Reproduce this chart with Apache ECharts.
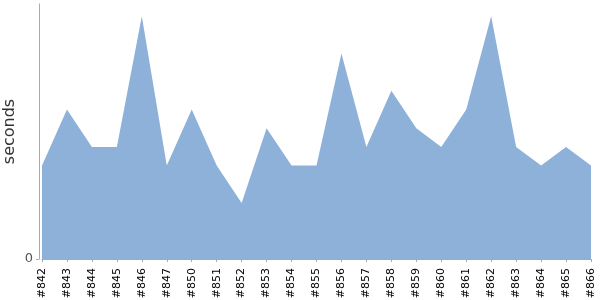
<!DOCTYPE html>
<html><head><meta charset="utf-8">
<script src="https://cdn.jsdelivr.net/npm/echarts@6/dist/echarts.min.js"></script>
<style>html,body{margin:0;padding:0;background:#fff}#c{width:600px;height:300px}</style>
</head><body><div id="c"></div>
<script>
var builds = ['#842','#843','#844','#845','#846','#847','#850','#851','#852','#853','#854','#855','#856','#857','#858','#859','#860','#861','#862','#863','#864','#865','#866'];
var seconds = [5,8,6,6,13,5,8,5,3,7,5,5,11,6,9,7,6,8,13,6,5,6,5];
var yTicks = [0];

var chart = echarts.init(document.getElementById('c'), null, {renderer:'canvas'});
chart.setOption({
  animation:false,
  grid:{left:42,right:9,top:4,bottom:41,containLabel:false,outerBoundsMode:'none'},
  xAxis:{
    type:'category', data:builds, boundaryGap:false, offset:3,
    axisLine:{lineStyle:{color:'#aaa'}},
    axisTick:{show:true,alignWithLabel:true,length:3,lineStyle:{color:'#aaa'}},
    axisLabel:{rotate:90,interval:0,fontSize:11,color:'#000',fontFamily:'DejaVu Sans',margin:6}
  },
  yAxis:{
    type:'value', min:0, max:13.65, offset:3,
    name:'seconds', nameLocation:'middle', nameRotate:90, nameGap:21, nameMoveOverlap:false,
    nameTextStyle:{fontSize:16,color:'#333',fontFamily:'DejaVu Sans'},
    axisLine:{show:true,lineStyle:{color:'#aaa'}},
    axisTick:{show:true,length:3,customValues:yTicks,lineStyle:{color:'#aaa'}},
    axisLabel:{customValues:yTicks,fontSize:13,color:'#555',fontFamily:'DejaVu Sans',margin:6},
    splitLine:{show:false}
  },
  series:[{
    type:'line', data:seconds, symbol:'none', smooth:false,
    lineStyle:{width:0},
    areaStyle:{color:'#8eb1da',opacity:1}
  }]
});
</script></body></html>
